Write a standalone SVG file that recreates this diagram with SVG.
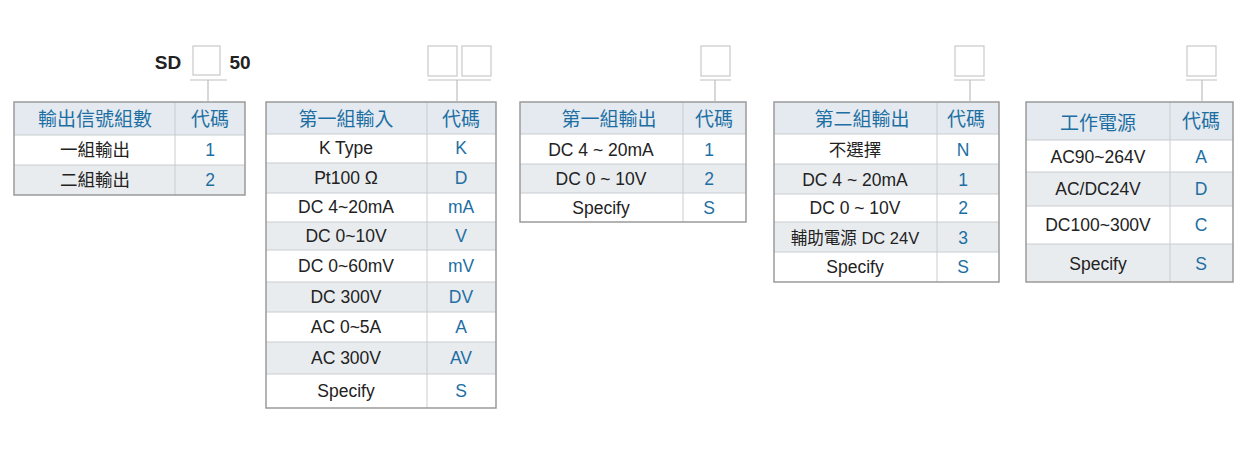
<svg xmlns="http://www.w3.org/2000/svg" width="1248" height="454" viewBox="0 0 1248 454">
<style>
text{font-family:"Liberation Sans","Noto Sans CJK TC",sans-serif;text-anchor:middle;dominant-baseline:central}
.h{fill:#e4eaf0}
.g{fill:#e9ecef}
.w{fill:#fff}
.ht{fill:#1d6fa3;font-size:19px}
.t{fill:#222;font-size:17.5px}
.c{fill:#1d6fa3;font-size:17.5px}
.frame{fill:none;stroke:#9a9a9a;stroke-width:1.5}
.sep{stroke:#c8ccd0;stroke-width:1}
.box{fill:#fff;stroke:#c8c8c8;stroke-width:1.2}
.br{stroke:#bfbfbf;stroke-width:1.2;fill:none}
</style>
<g id="code">
<text x="168" y="62" style="font-size:19px;font-weight:bold;fill:#222">SD</text>
<rect class="box" x="193" y="46" width="27" height="29"/>
<text x="240" y="62" style="font-size:19px;font-weight:bold;fill:#222">50</text>
<rect class="box" x="428" y="46" width="29" height="30"/>
<rect class="box" x="462" y="46" width="29" height="30"/>
<rect class="box" x="701" y="46" width="29" height="30"/>
<rect class="box" x="955" y="46" width="29" height="30"/>
<rect class="box" x="1187" y="46" width="29" height="30"/>
</g>
<g id="connectors">
<path class="br" d="M190 80H227M208 80V101"/>
<path class="br" d="M428 80H491M457 80V101"/>
<path class="br" d="M700 80H731M715 80V101"/>
<path class="br" d="M954 80H985M970 80V101"/>
<path class="br" d="M1186 80H1217M1202 80V101"/>
</g>
<g id="t1">
<rect class="h" x="14" y="102" width="231" height="33"/>
<rect class="w" x="14" y="135" width="231" height="30"/>
<rect class="g" x="14" y="165" width="231" height="30"/>
<path class="sep" d="M14 135H245M14 165H245M175 102V195"/>
<rect class="frame" x="14" y="102" width="231" height="93"/>
<text class="ht" x="95" y="119">輸出信號組數</text><text class="ht" x="210" y="119">代碼</text>
<text class="t" x="95" y="150">一組輸出</text><text class="c" x="210" y="150">1</text>
<text class="t" x="95" y="180">二組輸出</text><text class="c" x="210" y="180">2</text>
</g>
<g id="t2">
<rect class="h" x="266" y="102" width="230" height="32"/>
<rect class="w" x="266" y="134" width="230" height="274"/>
<rect class="g" x="266" y="163" width="230" height="30"/>
<rect class="g" x="266" y="222" width="230" height="28"/>
<rect class="g" x="266" y="282" width="230" height="30"/>
<rect class="g" x="266" y="342" width="230" height="32"/>
<path class="sep" d="M266 134H496M266 163H496M266 193H496M266 222H496M266 250H496M266 282H496M266 312H496M266 342H496M266 374H496M427 102V408"/>
<rect class="frame" x="266" y="102" width="230" height="306"/>
<text class="ht" x="346" y="119">第一組輸入</text><text class="ht" x="461" y="119">代碼</text>
<text class="t" x="346" y="148">K Type</text><text class="c" x="461" y="148">K</text>
<text class="t" x="346" y="178">Pt100 Ω</text><text class="c" x="461" y="178">D</text>
<text class="t" x="346" y="207">DC 4~20mA</text><text class="c" x="461" y="207">mA</text>
<text class="t" x="346" y="236">DC 0~10V</text><text class="c" x="461" y="236">V</text>
<text class="t" x="346" y="266">DC 0~60mV</text><text class="c" x="461" y="266">mV</text>
<text class="t" x="346" y="297">DC 300V</text><text class="c" x="461" y="297">DV</text>
<text class="t" x="346" y="327">AC 0~5A</text><text class="c" x="461" y="327">A</text>
<text class="t" x="346" y="358">AC 300V</text><text class="c" x="461" y="358">AV</text>
<text class="t" x="346" y="391">Specify</text><text class="c" x="461" y="391">S</text>
</g>
<g id="t3">
<rect class="h" x="520" y="102" width="226" height="32"/>
<rect class="w" x="520" y="134" width="226" height="88"/>
<rect class="g" x="520" y="164" width="226" height="29"/>
<path class="sep" d="M520 134H746M520 164H746M520 193H746M683 102V222"/>
<rect class="frame" x="520" y="102" width="226" height="120"/>
<text class="ht" x="609" y="119">第一組輸出</text><text class="ht" x="714" y="119">代碼</text>
<text class="t" x="601" y="150">DC  4 ~ 20mA</text><text class="c" x="709" y="150">1</text>
<text class="t" x="601" y="179">DC  0  ~ 10V</text><text class="c" x="709" y="179">2</text>
<text class="t" x="601" y="208">Specify</text><text class="c" x="709" y="208">S</text>
</g>
<g id="t4">
<rect class="h" x="774" y="102" width="225" height="32"/>
<rect class="w" x="774" y="134" width="225" height="148"/>
<rect class="g" x="774" y="164" width="225" height="30"/>
<rect class="g" x="774" y="222" width="225" height="30"/>
<path class="sep" d="M774 134H999M774 164H999M774 194H999M774 222H999M774 252H999M937 102V282"/>
<rect class="frame" x="774" y="102" width="225" height="180"/>
<text class="ht" x="862" y="119">第二組輸出</text><text class="ht" x="966" y="119">代碼</text>
<text class="t" x="855" y="150">不選擇</text><text class="c" x="963" y="150">N</text>
<text class="t" x="855" y="180">DC  4 ~ 20mA</text><text class="c" x="963" y="180">1</text>
<text class="t" x="855" y="208">DC  0  ~ 10V</text><text class="c" x="963" y="208">2</text>
<text class="t" x="855" y="238" style="font-size:16.5px">輔助電源 DC 24V</text><text class="c" x="963" y="238">3</text>
<text class="t" x="855" y="267">Specify</text><text class="c" x="963" y="267">S</text>
</g>
<g id="t5">
<rect class="h" x="1026" y="102" width="207" height="38"/>
<rect class="w" x="1026" y="140" width="207" height="142"/>
<rect class="g" x="1026" y="172" width="207" height="34"/>
<rect class="g" x="1026" y="244" width="207" height="38"/>
<path class="sep" d="M1026 140H1233M1026 172H1233M1026 206H1233M1026 244H1233M1170 102V282"/>
<rect class="frame" x="1026" y="102" width="207" height="180"/>
<text class="ht" x="1098" y="123">工作電源</text><text class="ht" x="1201" y="121">代碼</text>
<text class="t" x="1098" y="157">AC90~264V</text><text class="c" x="1201" y="157">A</text>
<text class="t" x="1098" y="189">AC/DC24V</text><text class="c" x="1201" y="189">D</text>
<text class="t" x="1098" y="225">DC100~300V</text><text class="c" x="1201" y="225">C</text>
<text class="t" x="1098" y="264">Specify</text><text class="c" x="1201" y="264">S</text>
</g>
</svg>
